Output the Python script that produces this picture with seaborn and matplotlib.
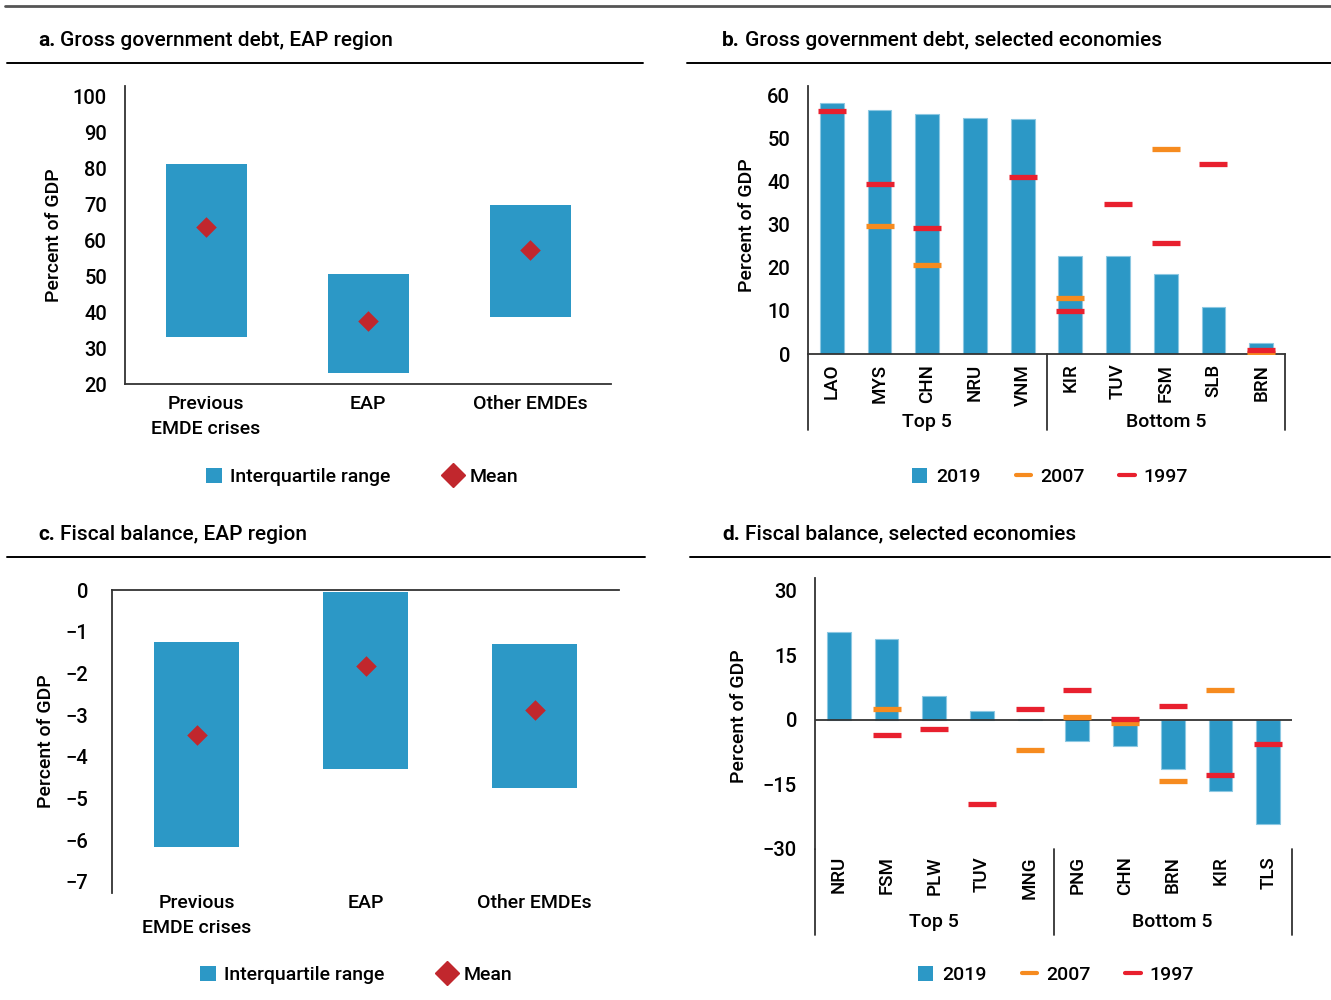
import numpy as np
import pandas as pd
import matplotlib
matplotlib.use("Agg")
import matplotlib.pyplot as plt
import matplotlib.transforms as mtransforms
from matplotlib.lines import Line2D
from matplotlib.patches import Patch
import seaborn as sns

nan = np.nan

# ---------------- data ----------------
a_groups = ["Previous\nEMDE crises", "EAP", "Other EMDEs"]
a_q1 = [33.0, 23.0, 38.6]
a_q3 = [81.0, 50.5, 69.6]
a_mean = [63.5, 37.5, 57.1]

b_cats = ["LAO", "MYS", "CHN", "NRU", "VNM", "KIR", "TUV", "FSM", "SLB", "BRN"]
b_2019 = [58.1, 56.5, 55.7, 54.8, 54.4, 22.6, 22.6, 18.5, 10.9, 2.6]
b_2007 = [nan, 29.7, 20.6, nan, nan, 12.9, nan, 47.4, nan, 0.3]
b_1997 = [56.2, 39.5, 29.2, nan, 41.1, 9.9, 34.8, 25.7, 44.1, 1.0]

c_groups = ["Previous\nEMDE crises", "EAP", "Other EMDEs"]
c_top = [-1.25, -0.05, -1.3]
c_bottom = [-6.16, -4.29, -4.75]
c_mean = [-3.48, -1.82, -2.88]

d_cats = ["NRU", "FSM", "PLW", "TUV", "MNG", "PNG", "CHN", "BRN", "KIR", "TLS"]
d_2019 = [20.5, 18.9, 5.5, 2.1, 0.3, -5.0, -6.1, -11.5, -16.6, -24.3]
d_2007 = [nan, 2.5, nan, nan, -7.0, 0.6, -0.8, -14.3, 7.0, nan]
d_1997 = [nan, -3.6, -2.2, -19.5, 2.6, 7.0, 0.3, 3.2, -12.9, -5.6]

group_names = ["Top 5", "Bottom 5"]
a_ticks = [20, 30, 40, 50, 60, 70, 80, 90, 100]
b_ticks = [0, 10, 20, 30, 40, 50, 60]
c_ticks = [0, -1, -2, -3, -4, -5, -6, -7]
d_ticks = [30, 15, 0, -15, -30]

BLUE = "#2C98C6"
RED_D = "#C1272D"
RED = "#E8202E"
ORANGE = "#F68B1F"
AX = "#333333"

sns.set_style("white")
plt.rcParams["font.family"] = ["Roboto", "DejaVu Sans"]
plt.rcParams["font.weight"] = "medium"
plt.rcParams["axes.labelweight"] = "medium"
plt.rcParams["axes.unicode_minus"] = True
plt.rcParams["text.color"] = "black"
plt.rcParams["axes.labelcolor"] = "black"
plt.rcParams["xtick.color"] = "black"
plt.rcParams["ytick.color"] = "black"

W, H = 1331, 1000
fig = plt.figure(figsize=(W / 100, H / 100), dpi=100)


def add_ax(x0, x1, y0, y1):
    return fig.add_axes([x0 / W, 1 - y1 / H, (x1 - x0) / W, (y1 - y0) / H])


def style_ax(ax):
    for s in ax.spines.values():
        s.set_color(AX)
        s.set_linewidth(1.3)
    ax.tick_params(length=0, labelsize=14.5, colors="black")
    ax.set_xlabel("")


def fline(x0, x1, y, color="black", lw=1.4):
    fig.add_artist(Line2D([x0 / W, x1 / W], [1 - y / H, 1 - y / H],
                          transform=fig.transFigure, color=color, lw=lw))


renderer = fig.canvas.get_renderer()


def title(x, y, letter, text):
    t1 = fig.text(x / W, 1 - y / H, letter, fontsize=15, fontweight="bold",
                  va="center", ha="left")
    bb = t1.get_window_extent(renderer=renderer)
    fig.text((bb.x1 + 5) / W, 1 - y / H, text, fontsize=15, va="center", ha="left")


# ---------------- rules and titles ----------------
fline(5, 1331, 6, color="#555555", lw=2)
fline(7, 643, 63)
fline(687, 1331, 63)
fline(7, 645, 557)
fline(690, 1330, 557)
title(38, 40, "a.", "Gross government debt, EAP region")
title(722, 40, "b.", "Gross government debt, selected economies")
title(38, 534, "c.", "Fiscal balance, EAP region")
title(722, 534, "d.", "Fiscal balance, selected economies")


# ---------------- range panels (a, c) ----------------
def range_panel(ax, groups, low, high, mean):
    heights = [h - l for h, l in zip(high, low)]
    df = pd.DataFrame({"g": groups, "h": heights})
    sns.barplot(data=df, x="g", y="h", order=groups, ax=ax, color=BLUE,
                saturation=1, errorbar=None, width=0.5, bottom=low,
                linewidth=0)
    sns.scatterplot(x=np.arange(len(groups)), y=mean, ax=ax, marker="D",
                    s=110, color=RED_D, linewidth=0, zorder=5)
    ax.set_xlim(-0.5, 2.5)
    style_ax(ax)
    ax.set_ylabel("Percent of GDP", fontsize=14)


axa = add_ax(125, 611, 86, 384)
range_panel(axa, a_groups, a_q1, a_q3, a_mean)
axa.set_ylim(20, 102.8)
axa.set_yticks(a_ticks)
axa.spines["top"].set_visible(False)
axa.spines["right"].set_visible(False)
axa.tick_params(axis="y", pad=13)
axa.tick_params(axis="x", pad=8, labelsize=14)
for t in axa.get_xticklabels():
    t.set_linespacing(1.5)
axa.yaxis.set_label_coords(-0.128, 0.5)

axc = add_ax(112, 619, 590, 893)
range_panel(axc, c_groups, c_top, c_bottom, c_mean)
axc.set_ylim(-7.27, 0)
axc.set_yticks(c_ticks)
axc.spines["bottom"].set_visible(False)
axc.spines["right"].set_visible(False)
axc.tick_params(axis="y", pad=17)
axc.tick_params(axis="x", pad=1, labelsize=14)
for t in axc.get_xticklabels():
    t.set_linespacing(1.5)
axc.yaxis.set_label_coords(-0.112, 0.5)


# ---------------- country panels (b, d) ----------------
def country_panel(ax, cats, v2019, v2007, v1997, sep_depth, group_y, pad):
    df = pd.DataFrame({"c": cats, "v": v2019})
    sns.barplot(data=df, x="c", y="v", order=cats, ax=ax, color=BLUE,
                saturation=1, errorbar=None, width=0.5,
                edgecolor="#8CC8E2", linewidth=0.8)
    pos = np.arange(len(cats))
    sns.scatterplot(x=pos, y=v2007, ax=ax, marker="_", s=380, color=ORANGE,
                    linewidth=3.8, zorder=5)
    sns.scatterplot(x=pos, y=v1997, ax=ax, marker="_", s=380, color=RED,
                    linewidth=3.8, zorder=6)
    ax.set_xlim(-0.5, len(cats) - 0.5)
    style_ax(ax)
    ax.set_ylabel("Percent of GDP", fontsize=14)
    ax.tick_params(axis="x", labelrotation=90, labelsize=13.5, pad=pad)
    ax.tick_params(axis="y", pad=13)
    ax.spines["top"].set_visible(False)
    ax.spines["right"].set_visible(False)
    tr = mtransforms.blended_transform_factory(ax.transData, ax.transAxes)
    for xs in (-0.5, 4.5, 9.5):
        ax.add_line(Line2D([xs, xs], [0, -sep_depth], transform=tr,
                           color=AX, lw=1.3, clip_on=False))
    for gx, name in zip((2, 7), group_names):
        ax.text(gx, group_y, name, transform=tr, ha="center", va="center",
                fontsize=14)


axb = add_ax(808, 1285, 86, 354)
country_panel(axb, b_cats, b_2019, b_2007, b_1997, 0.284, -0.252, 7)
axb.set_ylim(0, 62.1)
axb.set_yticks(b_ticks)
axb.yaxis.set_label_coords(-0.110, 0.48)

axd = add_ax(815, 1292, 578, 849)
country_panel(axd, d_cats, d_2019, d_2007, d_1997, 0.317, -0.269, 5)
axd.set_ylim(-30, 33)
axd.set_yticks(d_ticks)
axd.spines["bottom"].set_visible(False)
axd.axhline(0, color=AX, lw=1.3, zorder=4)
axd.yaxis.set_label_coords(-0.140, 0.49)


# ---------------- legends ----------------
def legend_range(xc, yc):
    h = [Patch(facecolor=BLUE, edgecolor="none"),
         Line2D([], [], marker="D", color=RED_D, linestyle="none", markersize=12)]
    fig.legend(h, ["Interquartile range", "Mean"], loc="center",
               bbox_to_anchor=(xc / W, 1 - yc / H), ncol=2, frameon=False,
               fontsize=14, handlelength=0.8, handleheight=0.8,
               handletextpad=0.45, columnspacing=2.8)


def legend_years(xc, yc):
    h = [Patch(facecolor=BLUE, edgecolor="none"),
         Line2D([], [], color=ORANGE, lw=3),
         Line2D([], [], color=RED, lw=3)]
    fig.legend(h, ["2019", "2007", "1997"], loc="center",
               bbox_to_anchor=(xc / W, 1 - yc / H), ncol=3, frameon=False,
               fontsize=14, handlelength=0.8, handleheight=0.8,
               handletextpad=0.45, columnspacing=1.8)


legend_range(362, 477)
legend_years(1050, 477)
legend_range(356, 975)
legend_years(1056, 975)

fig.savefig("out.png", dpi=100)
